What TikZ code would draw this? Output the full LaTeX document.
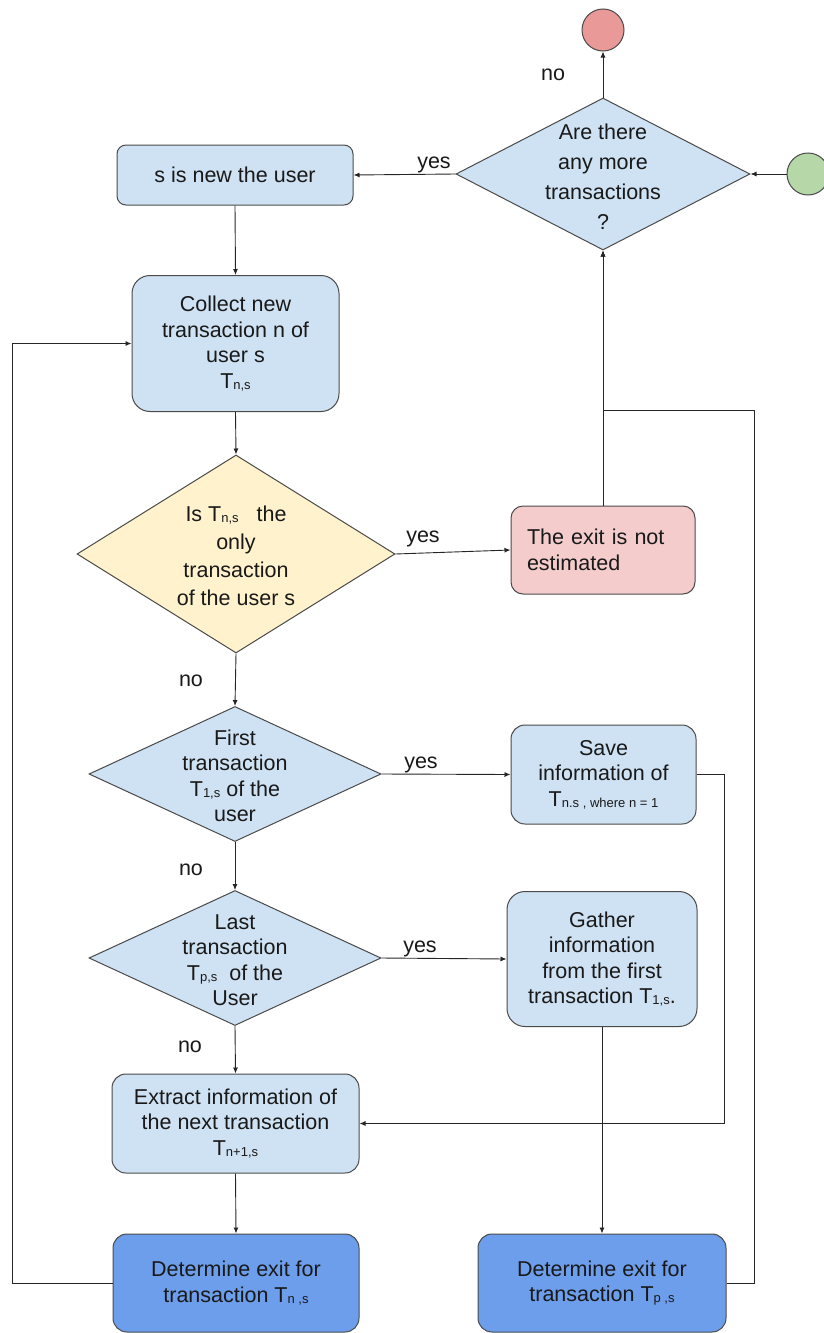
\documentclass[tikz,border=0pt]{standalone}
\usepackage{fontspec}
\setmainfont{Liberation Sans}
\usetikzlibrary{shapes.geometric,arrows.meta}
\definecolor{boxblue}{HTML}{CFE2F3}
\definecolor{darkblue}{HTML}{6D9EEB}
\definecolor{pinkfill}{HTML}{F4CCCC}
\definecolor{yellowfill}{HTML}{FFF2CC}
\definecolor{redfill}{HTML}{EA9999}
\definecolor{greenfill}{HTML}{B6D7A8}
\definecolor{edgegray}{HTML}{4A4A4A}
\newcommand\subtxt[1]{\raisebox{-1pt}{\fontsize{13}{13}\selectfont #1}}
\begin{document}
\begin{tikzpicture}[x=1pt,y=-1pt,
  every node/.style={font=\fontsize{21.5}{25.5}\selectfont, text=black!90},
  box/.style={draw=edgegray, line width=1pt, fill=boxblue, align=center, inner sep=0pt, rounded corners=#1},
  box/.default=14pt,
  dia/.style={draw=edgegray, line width=1pt, fill=boxblue, shape=diamond, inner sep=0pt},
  dot/.style={draw=edgegray, line width=1pt, shape=circle, minimum size=42pt, inner sep=0pt},
  txt/.style={align=center, inner sep=0pt},
  lbl/.style={inner sep=0pt},
  arr/.style={draw=black!85, line width=0.9pt, -{Latex[length=6pt,width=5pt]}},
  ln/.style={draw=black!85, line width=0.9pt}]
\useasboundingbox (0,0) rectangle (824,1333);
% circles
\node[dot, fill=redfill] (stop) at (603,30) {};
\node[dot, fill=greenfill] (start) at (808,174) {};
% diamonds
\node[dia, minimum width=294pt, minimum height=152pt] (dtop) at (603,174) {};
\node[txt, font=\fontsize{21.5}{30}\selectfont] (dtopt) at (603,177) {Are there\\any more\\transactions\\?};
\node[dia, fill=yellowfill, minimum width=318pt, minimum height=198pt] (dyel) at (236,554) {};
\node[txt, font=\fontsize{21.5}{28}\selectfont] (dyelt) at (236,556) {Is T\subtxt{n,s}\ \ \ the\\only\\transaction\\of the user s};
\node[dia, minimum width=292pt, minimum height=135pt] (dfirst) at (235,774) {};
\node[txt] (dfirstt) at (235,776) {First\\transaction\\T\subtxt{1,s} of the\\user};
\node[dia, minimum width=292pt, minimum height=135pt] (dlast) at (235,958) {};
\node[txt] (dlastt) at (235,960) {Last\\transaction\\T\subtxt{p,s}\ \ of the\\User};
% boxes
\node[box=9pt, minimum width=236pt, minimum height=60pt] (newuser) at (235,175) {s is new the user};
\node[box=18pt, minimum width=207pt, minimum height=136pt] (collect) at (235.5,343.5) {Collect new\\transaction n of\\user s\\T\subtxt{n,s}};
\node[box=12pt, fill=pinkfill, minimum width=184pt, minimum height=88pt, align=left, text width=152pt, inner xsep=16pt] (pink) at (603,550) {The exit is not\\estimated};
\node[box=14pt, minimum width=185pt, minimum height=99pt] (save) at (603.5,774.5) {Save\\information of\\T\subtxt{n.s , where n = 1}};
\node[box=18pt, minimum width=190pt, minimum height=135pt] (gather) at (602,959) {Gather\\information\\from the first\\transaction T\subtxt{1,s}.};
\node[box=14pt, minimum width=247pt, minimum height=99pt] (extract) at (235.5,1123.5) {Extract information of\\the next transaction\\T\subtxt{n+1,s}};
\node[box=14pt, fill=darkblue, minimum width=246pt, minimum height=98pt] (detn) at (236,1283) {Determine exit for\\transaction T\subtxt{n ,s}};
\node[box=14pt, fill=darkblue, minimum width=248pt, minimum height=98pt] (detp) at (602,1283) {Determine exit for\\transaction T\subtxt{p ,s}};
% helper coordinates
\coordinate (lb) at (12,0);
\coordinate (rb) at (754,410);
\coordinate (rc) at (724,0);
% connectors
\draw[arr] (dtop.north) -- (stop.south);
\draw[arr] (start.west) -- (dtop.east);
\draw[arr] (dtop.west) -- (newuser.east);
\draw[arr] (newuser.south) -- (collect.north);
\draw[arr] (detn.west) -- (detn.west -| lb) |- (collect.west);
\draw[arr] (collect.south) -- (dyel.north);
\draw[arr] (dyel.east) -- (pink.west);
\draw[arr] (pink.north) -- (dtop.south);
\draw[arr] (detp.east) -- (detp.east -| rb) -- (rb) -- (rb -| dtop.south) -- (dtop.south);
\draw[arr] (dyel.south) -- (dfirst.north);
\draw[arr] (dfirst.east) -- (save.west);
\draw[arr] (save.east) -- (save.east -| rc) |- (extract.east);
\draw[arr] (dfirst.south) -- (dlast.north);
\draw[arr] (dlast.east) -- (gather.west);
\draw[arr] (dlast.south) -- (extract.north);
\draw[arr] (extract.south) -- (detn.north);
\draw[arr] (gather.south) -- (detp.north);
% labels
\node[lbl] (l1) at (553,75) {no};
\node[lbl] (l2) at (434,165) {yes};
\node[lbl] (l3) at (423,539) {yes};
\node[lbl] (l4) at (191,681) {no};
\node[lbl] (l5) at (421,765) {yes};
\node[lbl] (l6) at (191,870) {no};
\node[lbl] (l7) at (420,949) {yes};
\node[lbl] (l8) at (190,1047) {no};
\end{tikzpicture}
\end{document}
